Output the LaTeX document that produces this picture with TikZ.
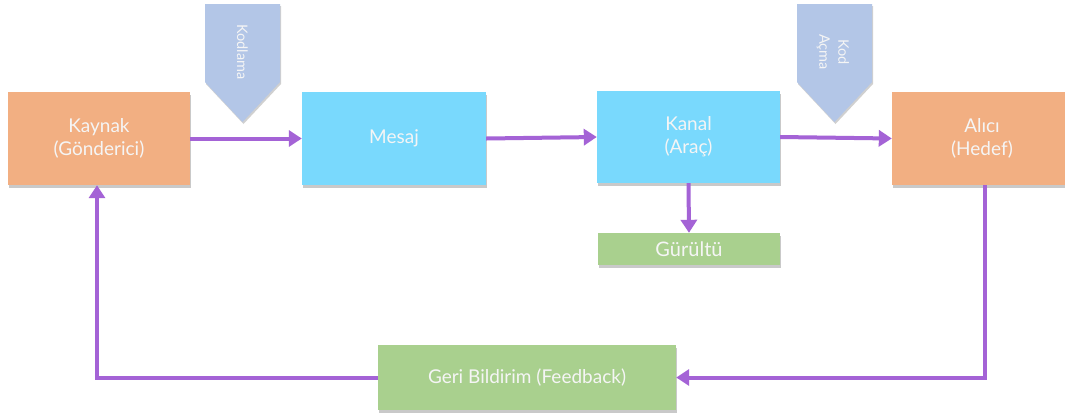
\documentclass[tikz,border=0pt]{standalone}
\usepackage{fontspec}
\setmainfont{Lato}
\usetikzlibrary{arrows.meta,shadows}
\definecolor{orangebox}{HTML}{F2AF82}
\definecolor{bluebox}{HTML}{79D9FD}
\definecolor{greenbox}{HTML}{A9D08E}
\definecolor{pentcol}{HTML}{B3C6E7}
\definecolor{arrowcol}{HTML}{A463D6}
\begin{document}
\begin{tikzpicture}[x=1pt,y=-1pt,
  box/.style={draw=none,inner sep=0pt,align=center,text=white!96!black,
    font=\fontsize{19}{23}\selectfont,
    drop shadow={shadow xshift=1pt,shadow yshift=-2.5pt,opacity=0.35,fill=black!60}},
  pent/.style={fill=pentcol,
    drop shadow={shadow xshift=1pt,shadow yshift=-2pt,opacity=0.3,fill=black!60}},
  penttext/.style={text=white!96!black,rotate=-90,font=\fontsize{14.5}{19}\selectfont,align=center},
  conn/.style={draw=arrowcol,line width=4pt,
    -{Triangle[length=13pt,width=16pt]}}]
\useasboundingbox (0,0) rectangle (1065,416);
\fill[white] (0,0) rectangle (1065,416);
% pentagons
\path[pent] (205,4) -- (280,4) -- (280,82) -- (242.5,122) -- (205,82) -- cycle;
\node[penttext] (kodlama) at (242.5,52) {Kodlama};
\path[pent] (797,4) -- (872,4) -- (872,82) -- (834.5,122) -- (797,82) -- cycle;
\node[penttext] (kodacma) at (833,52) {Kod\\Açma};
% boxes
\node[box,fill=orangebox,minimum width=182pt,minimum height=93pt] (kaynak) at (99,138.5) {Kaynak\\(Gönderici)};
\node[box,fill=bluebox,minimum width=184pt,minimum height=93pt] (mesaj) at (394,138.5) {Mesaj};
\node[box,fill=bluebox,minimum width=183pt,minimum height=92pt] (kanal) at (688.5,137) {Kanal\\(Araç)};
\node[box,fill=orangebox,minimum width=186pt,minimum height=93pt] (alici) at (985,138.5) {\hspace*{-6pt}Alıcı\\\hspace*{-6pt}(Hedef)};
\node[box,fill=greenbox,minimum width=182pt,minimum height=32pt,font=\fontsize{20}{24}\selectfont] (gurultu) at (689,249) {Gürültü};
\node[box,fill=greenbox,minimum width=298pt,minimum height=65pt,font=\fontsize{19}{23}\selectfont] (fb) at (527,377.5) {Geri Bildirim (Feedback)};
% connectors
\draw[conn] (kaynak.east) -- (mesaj.west);
\draw[conn] (mesaj.east) -- (kanal.west);
\draw[conn] (kanal.east) -- (alici.west);
\draw[conn] (kanal.south) -- (gurultu.north);
\draw[conn] (alici.south) |- (fb.east);
\draw[conn] (fb.west) -| ([xshift=-2pt]kaynak.south);
\end{tikzpicture}
\end{document}
